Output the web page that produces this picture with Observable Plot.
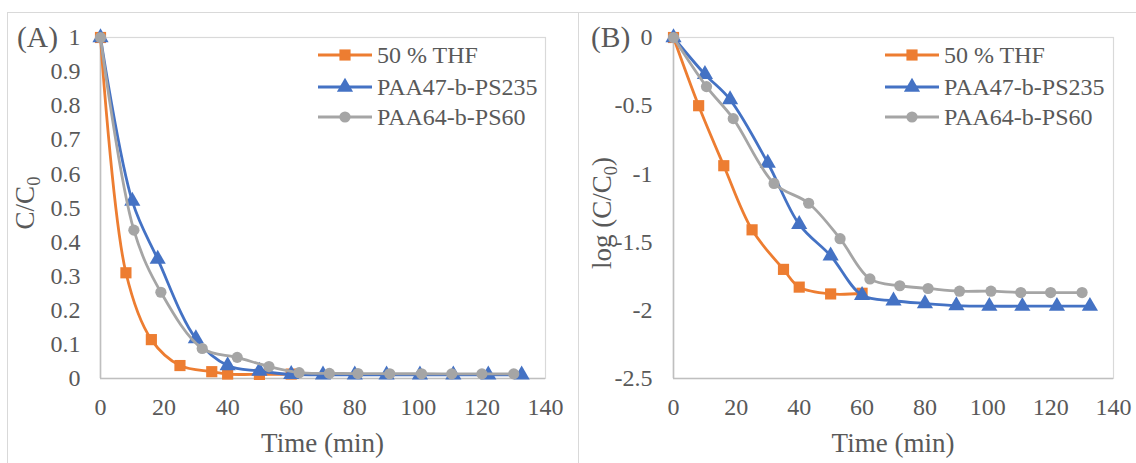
<!DOCTYPE html>
<html><head><meta charset="utf-8">
<script src="https://cdn.jsdelivr.net/npm/d3@7"></script>
<script src="https://cdn.jsdelivr.net/npm/@observablehq/plot@0.6"></script>
<style>
body{margin:0;background:#fff;}
#wrap{position:relative;width:1136px;height:463px;overflow:hidden;font-family:"Liberation Serif","Times New Roman",serif;background:#fff;}
#wrap svg, #wrap svg text{font-family:"Liberation Serif","Times New Roman",serif !important;}
.panel{position:absolute;border:1px solid #d9d9d9;box-sizing:border-box;}
.plotbox{position:absolute;top:0;}
</style></head>
<body><div id="wrap"></div>
<script>
// ---- data ----
const seriesNames = ["50 % THF", "PAA47-b-PS235", "PAA64-b-PS60"];
const seriesColors = ["#ED7D31", "#4472C4", "#A5A5A5"];
const seriesSymbols = ["square", "triangle", "circle"];

const timeTHF = [0, 8, 16, 25, 35, 40, 50, 60];
const ccTHF   = [1, 0.31, 0.114, 0.038, 0.02, 0.013, 0.012, 0.013];
const logTHF  = [0, -0.5, -0.94, -1.41, -1.70, -1.83, -1.88, -1.875];

const timePS235 = [0, 10, 18, 30, 40, 50, 60, 70, 80, 90, 100.5, 111, 122, 132.5];
const ccPS235   = [1, 0.52, 0.35, 0.117, 0.038, 0.022, 0.012, 0.011, 0.011, 0.0105, 0.0105, 0.0105, 0.0105, 0.0105];
const logPS235  = [0, -0.27, -0.455, -0.92, -1.37, -1.60, -1.89, -1.93, -1.95, -1.965, -1.97, -1.97, -1.97, -1.97];

const timePS60 = [0, 10.5, 19, 32, 43, 53, 62.5, 72, 81, 91, 101, 110.5, 120, 130];
const ccPS60   = [1, 0.435, 0.253, 0.088, 0.062, 0.035, 0.017, 0.015, 0.0145, 0.014, 0.014, 0.0135, 0.0135, 0.0135];
const logPS60  = [0, -0.36, -0.595, -1.07, -1.215, -1.475, -1.77, -1.82, -1.84, -1.86, -1.86, -1.87, -1.87, -1.87];

const xTicks = [0, 20, 40, 60, 80, 100, 120, 140];
const yTicksA = [0, 0.1, 0.2, 0.3, 0.4, 0.5, 0.6, 0.7, 0.8, 0.9, 1];
const yTicksB = [-2.5, -2, -1.5, -1, -0.5, 0];

// ---- build ----
const FONT = '"Liberation Serif","Times New Roman",serif';
const TXT = "#595959";
const symR = {square: 6.3, triangle: 6.0, circle: 5.6};
const TICKFS = 24, TITLEFS = 27;

function table(t, v) { return t.map((x, i) => ({t: x, v: v[i]})); }

const wrap = d3.select("#wrap");
wrap.append("div").attr("class", "panel").style("left", "7px").style("top", "12px").style("width", "572px").style("height", "470px");
wrap.append("div").attr("class", "panel").style("left", "578px").style("top", "12px").style("width", "600px").style("height", "470px");

function makePanel(cfg) {
  const sets = [table(timeTHF, cfg.vals[0]), table(timePS235, cfg.vals[1]), table(timePS60, cfg.vals[2])];
  const marks = [
    Plot.frame({stroke: "#d9d9d9", strokeWidth: 1.2}),
    Plot.ruleX([0], {stroke: "#bfbfbf", strokeWidth: 1.6}),
    Plot.ruleY([cfg.yDomain[0]], {stroke: "#bfbfbf", strokeWidth: 1.6}),
    Plot.axisX({ticks: xTicks, tickSize: 0, tickPadding: 19, tickFormat: d => String(d), label: null, fill: TXT, fontSize: TICKFS, fontFamily: FONT}),
    Plot.axisY({ticks: cfg.yTicks, tickSize: 0, tickPadding: cfg.yPad, tickFormat: d => String(+d.toFixed(2)), label: null, fill: TXT, fontSize: TICKFS, fontFamily: FONT})
  ];
  sets.forEach((s, i) => {
    marks.push(Plot.line(s, {x: "t", y: "v", stroke: seriesColors[i], strokeWidth: 2.8, curve: "catmull-rom"}));
    marks.push(Plot.dot(s, {x: "t", y: "v", symbol: seriesSymbols[i], r: symR[seriesSymbols[i]], fill: seriesColors[i], stroke: "none"}));
  });
  const svg = Plot.plot({
    width: cfg.width, height: 463,
    marginLeft: cfg.ml, marginRight: cfg.mr, marginTop: 37, marginBottom: 85,
    style: {background: "transparent", fontFamily: FONT, fontSize: TICKFS + "px", color: TXT, overflow: "visible"},
    x: {domain: [0, 140]},
    y: {domain: cfg.yDomain},
    marks
  });
  const box = wrap.append("div").attr("class", "plotbox").style("left", cfg.left + "px");
  box.node().appendChild(svg);
  const g = d3.select(svg).append("g").attr("font-family", FONT).attr("fill", TXT).attr("text-anchor", "start");
  const ox = cfg.left;
  // panel tag
  g.append("text").attr("x", cfg.tagX - ox).attr("y", 47).attr("text-anchor", "start").attr("font-size", 29.5).text(cfg.tag);
  // x title
  g.append("text").attr("x", cfg.ml + (cfg.width - cfg.ml - cfg.mr) / 2).attr("y", 452)
    .attr("text-anchor", "middle").attr("font-size", TITLEFS).text("Time (min)");
  // y title
  const yt = g.append("text").attr("transform", `translate(${cfg.ytX - ox},${cfg.ytY}) rotate(-90)`)
    .attr("text-anchor", "middle").attr("font-size", TITLEFS);
  yt.append("tspan").text(cfg.ytPre);
  yt.append("tspan").attr("font-size", 18.5).attr("dy", 6).text("0");
  yt.append("tspan").attr("dy", -6).text(cfg.ytPost);
  // legend
  const rows = [55, 87, 117];
  seriesNames.forEach((n, i) => {
    const x1 = cfg.legX - ox, x2 = x1 + 54;
    g.append("line").attr("x1", x1).attr("x2", x2).attr("y1", rows[i]).attr("y2", rows[i])
      .attr("stroke", seriesColors[i]).attr("stroke-width", 2.8);
    const symType = {square: d3.symbolSquare, triangle: d3.symbolTriangle, circle: d3.symbolCircle}[seriesSymbols[i]];
    const r = symR[seriesSymbols[i]];
    g.append("path").attr("d", d3.symbol(symType, Math.PI * r * r)()).attr("transform", `translate(${(x1 + x2) / 2},${rows[i]})`)
      .attr("fill", seriesColors[i]);
    g.append("text").attr("x", x2 + 5).attr("y", rows[i]).attr("dy", "0.34em").attr("text-anchor", "start").attr("font-size", TICKFS).text(n);
  });
}

makePanel({left: 0, width: 578, ml: 100, mr: 33, yDomain: [0, 1], yTicks: yTicksA, yPad: 20,
  vals: [ccTHF, ccPS235, ccPS60], tag: "(A)", tagX: 17, ytX: 34, ytY: 203, ytPre: "C/C", ytPost: "", legX: 318});
makePanel({left: 578, width: 558, ml: 95, mr: 23, yDomain: [-2.5, 0], yTicks: yTicksB, yPad: 21,
  vals: [logTHF, logPS235, logPS60], tag: "(B)", tagX: 591, ytX: 611, ytY: 213, ytPre: "log (C/C", ytPost: ")", legX: 885});
</script>
</body></html>
